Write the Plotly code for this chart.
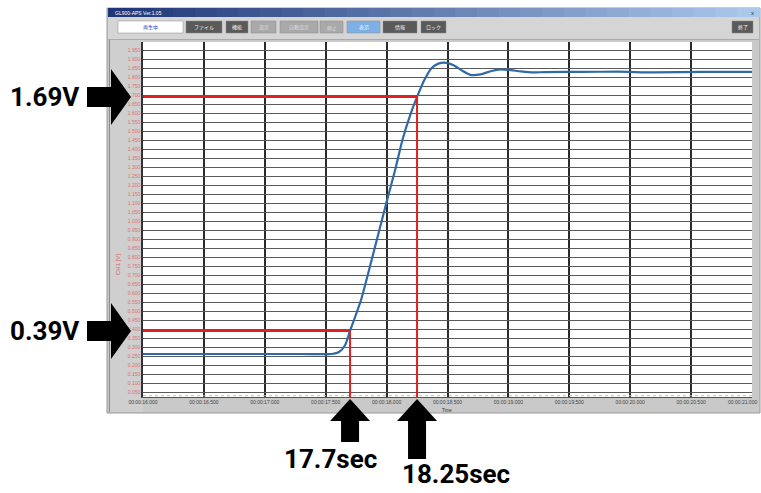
import plotly.graph_objects as go

# ---------------- data ----------------
time_s = [16.0, 16.5, 17.0, 17.3, 17.55, 17.61, 17.66, 17.7, 17.79, 17.86, 17.93, 18.0,
          18.07, 18.13, 18.2, 18.25, 18.31, 18.37, 18.43, 18.49, 18.55, 18.62, 18.69,
          18.77, 18.86, 18.92, 19.0, 19.1, 19.2, 19.3, 19.6, 19.9, 20.2, 20.6, 21.0]
volt_ch1 = [0.262, 0.262, 0.262, 0.262, 0.262, 0.273, 0.312, 0.39, 0.562, 0.740, 0.923, 1.106,
            1.284, 1.451, 1.601, 1.69, 1.784, 1.851, 1.876, 1.879, 1.866, 1.836, 1.812,
            1.815, 1.834, 1.842, 1.840, 1.832, 1.826, 1.828, 1.829, 1.830, 1.826, 1.829, 1.829]
time_ch2 = [16.0, 21.0]
volt_ch2 = [0.03, 0.03]

marker_times = [17.7, 18.25]
marker_volts = [0.39, 1.69]
marker_time_labels = ["17.7sec", "18.25sec"]
marker_volt_labels = ["0.39V", "1.69V"]

x_ticks = [16.0, 16.5, 17.0, 17.5, 18.0, 18.5, 19.0, 19.5, 20.0, 20.5, 21.0]
x_ticklabels = ["00:00:%06.3f" % t for t in x_ticks]
y_ticks = [i * 0.05 for i in range(1, 40)]
y_ticklabels = ["%.3f" % v for v in y_ticks]

# ---------------- geometry (pixels) ----------------
FW, FH = 761, 493
L, R, T, B = 143, 752, 42, 397
PW, PH = R - L, B - T
XMIN, XMAX, YMIN, YMAX = 16.0, 21.0, 0.023, 1.995


def px(x):
    return (x - L) / PW


def py(y):
    return (B - y) / PH


def vy(v):  # data value -> paper y
    return (v - YMIN) / (YMAX - YMIN)


def tx_(t):  # data time -> paper x
    return (t - XMIN) / (XMAX - XMIN)


fig = go.Figure()
fig.add_trace(go.Scatter(x=time_ch2, y=volt_ch2, mode="lines",
                         line=dict(color="#c9cf4a", width=1, dash="dot"), hoverinfo="skip"))
fig.add_trace(go.Scatter(x=time_s, y=volt_ch1, mode="lines",
                         line=dict(color="#2f6aa6", width=2.2, shape="spline", smoothing=0.6),
                         hoverinfo="skip"))

shapes = []
ann = []


def rect(x0, y0, x1, y1, fill, line=None, lw=0, layer="below"):
    shapes.append(dict(type="rect", xref="paper", yref="paper", x0=px(x0), x1=px(x1),
                       y0=py(y1), y1=py(y0), fillcolor=fill, layer=layer,
                       line=dict(color=line or fill, width=lw)))


# window chrome
rect(107, 8, 760, 413, "#c9c9c9", "#9a9a9a", 1)
n = 30
for i in range(n):
    f = i / (n - 1)
    c0 = (30, 55, 120)
    c1 = (170, 200, 235)
    col = "rgb(%d,%d,%d)" % tuple(int(c0[k] + (c1[k] - c0[k]) * f) for k in range(3))
    x0 = 108 + (759 - 108) * i / n
    x1 = 108 + (759 - 108) * (i + 1) / n + 1
    rect(x0, 8, x1, 17, col)
rect(108, 17, 759, 39, "#d5d5d5")
rect(108, 39, 759, 40, "#aaaaaa")
rect(110, 40, 143, 412, "#cfcfcf")
rect(109, 40, 110, 412, "#8c8c8c")
rect(L, T, R, B, "#ffffff")

ann.append(dict(x=px(113), y=py(12.5), xref="paper", yref="paper", text="GL900-APS Ver.1.05",
                showarrow=False, xanchor="left", yanchor="middle",
                font=dict(size=5, color="white", family="Liberation Sans")))
ann.append(dict(x=px(756), y=py(12.5), xref="paper", yref="paper", text="x",
                showarrow=False, xanchor="right", yanchor="middle",
                font=dict(size=6, color="#333", family="Liberation Sans")))

buttons = [(118, 183, "再生中", "status"), (186, 222, "ファイル", "dark"), (226, 248, "機能", "dark"),
           (251, 276, "設定", "light"), (280, 318, "自動設定", "light"), (320, 343, "停止", "light"),
           (347, 380, "表示", "blue"), (383, 417, "情報", "dark"), (421, 446, "ロック", "dark"),
           (732, 753, "終了", "dark")]
bstyle = {"status": ("#ffffff", "#2244cc"), "dark": ("#5a5a5a", "#eeeeee"),
          "light": ("#a9a9a9", "#dddddd"), "blue": ("#7db0e6", "#eef4ff")}
for x0, x1, lab, st in buttons:
    bg, fg = bstyle[st]
    rect(x0, 21, x1, 33, bg, "#888888", 0.5)
    ann.append(dict(x=px((x0 + x1) / 2), y=py(27), xref="paper", yref="paper", text=lab,
                    showarrow=False, xanchor="center", yanchor="middle",
                    font=dict(size=5, color=fg, family="Noto Sans CJK JP")))

ann.append(dict(x=px(118), y=py(265), xref="paper", yref="paper", text="CH1 [V]",
                showarrow=False, xanchor="center", yanchor="middle", textangle=-90,
                font=dict(size=6, color="#e06060", family="Liberation Sans")))
ann.append(dict(x=px(447), y=py(410), xref="paper", yref="paper", text="Time",
                showarrow=False, xanchor="center", yanchor="middle",
                font=dict(size=4.5, color="#333", family="Liberation Sans")))
# last time tick label (at the window edge in the original)
ann.append(dict(x=px(759), y=py(401.5), xref="paper", yref="paper", text=x_ticklabels[-1],
                showarrow=False, xanchor="right", yanchor="middle",
                font=dict(size=5, color="#444", family="Liberation Sans")))

for t, v in zip(marker_times, marker_volts):
    shapes.append(dict(type="line", xref="x", yref="y", x0=XMIN, x1=t, y0=v, y1=v,
                       line=dict(color="#e02020", width=2), layer="above"))
    shapes.append(dict(type="line", xref="x", yref="y", x0=t, x1=t, y0=v, y1=YMIN,
                       line=dict(color="#e02020", width=2), layer="above"))

tipx = 131
for v, lab in zip(marker_volts, marker_volt_labels):
    pts = [(tipx, 0), (tipx - 20, -28), (tipx - 20, -10), (tipx - 44, -10),
           (tipx - 44, 10), (tipx - 20, 10), (tipx - 20, 28)]
    path = "M " + " L ".join("%f,%f" % (px(x), vy(v) - d / PH) for x, d in pts) + " Z"
    shapes.append(dict(type="path", xref="paper", yref="paper", path=path,
                       fillcolor="black", line=dict(color="black", width=0), layer="above"))
    ann.append(dict(x=px(44), y=vy(v), xref="paper", yref="paper", text="<b>%s</b>" % lab,
                    showarrow=False, xanchor="center", yanchor="middle",
                    font=dict(size=26, color="black", family="Roboto")))

tipy = 399
body_end = [442, 459]
text_pos = [(330, 459), (456, 474)]
for t, lab, be, (tx, ty) in zip(marker_times, marker_time_labels, body_end, text_pos):
    xc = tx_(t)
    pts = [(0, tipy), (-20, tipy + 22), (-9, tipy + 22), (-9, be), (9, be), (9, tipy + 22), (20, tipy + 22)]
    path = "M " + " L ".join("%f,%f" % (xc + d / PW, py(y)) for d, y in pts) + " Z"
    shapes.append(dict(type="path", xref="paper", yref="paper", path=path,
                       fillcolor="black", line=dict(color="black", width=0), layer="above"))
    ann.append(dict(x=px(tx), y=py(ty), xref="paper", yref="paper", text="<b>%s</b>" % lab,
                    showarrow=False, xanchor="center", yanchor="middle",
                    font=dict(size=26, color="black", family="Roboto")))

fig.update_layout(
    width=FW, height=FH,
    margin=dict(l=L, r=FW - R, t=T, b=FH - B, pad=0),
    paper_bgcolor="white", plot_bgcolor="rgba(0,0,0,0)",
    showlegend=False, shapes=shapes, annotations=ann,
    xaxis=dict(range=[XMIN, XMAX], tickvals=x_ticks[:-1], ticktext=x_ticklabels[:-1],
               showgrid=True, gridcolor="#2a2a2a", gridwidth=1.6, zeroline=False,
               tickfont=dict(size=5, color="#444", family="Liberation Sans"),
               ticks="", showline=True, linecolor="#555", linewidth=1, fixedrange=True),
    yaxis=dict(range=[YMIN, YMAX], tickvals=y_ticks, ticktext=y_ticklabels,
               showgrid=True, gridcolor="#5a5a5a", gridwidth=1.3, zeroline=False,
               tickfont=dict(size=5, color="#e07070", family="Liberation Sans"),
               ticks="", showline=True, linecolor="#333", linewidth=1.5, fixedrange=True),
)

fig.write_html("out.html")
